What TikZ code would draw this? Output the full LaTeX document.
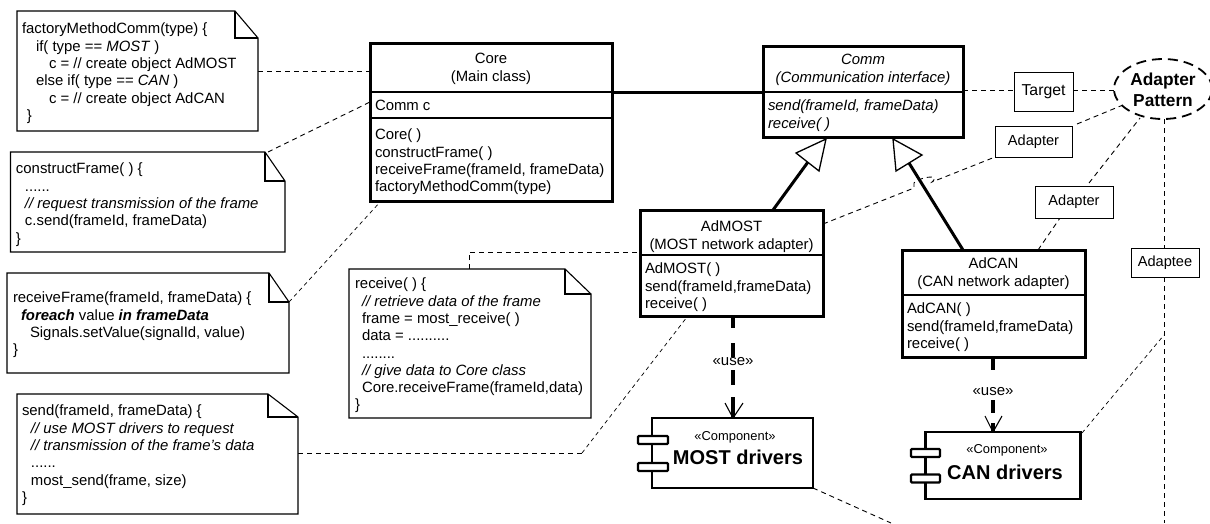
\documentclass[tikz,border=0pt]{standalone}
\usepackage{fontspec}
\setmainfont{Liberation Sans}
\usetikzlibrary{shapes.geometric,arrows.meta}
\tikzset{
  x=1pt,y=-1pt,
  thinbox/.style={draw=black,line width=0.95pt,fill=white,inner sep=0pt,outer sep=0pt},
  thickbox/.style={draw=black,line width=3pt,fill=white,inner sep=0pt,outer sep=0pt,line join=miter},
  codetext/.style={inner sep=0pt,outer sep=0pt,anchor=north west,align=left,font=\fontsize{14.9}{17.3}\selectfont},
  ctrtext/.style={inner sep=0pt,outer sep=0pt,align=center,font=\fontsize{14.9}{17.8}\selectfont},
  dep/.style={draw=black,line width=0.9pt,dash pattern=on 5pt off 4pt},
  finedep/.style={draw=black,line width=0.7pt,dash pattern=on 4pt off 3.5pt},
  tline/.style={draw=black,line width=3pt},
  openv/.style={draw=black,line width=1.1pt},
  tri/.style={draw=black,line width=1.3pt,fill=white,line join=miter},
  usetext/.style={fill=white,inner sep=1pt,font=\fontsize{15}{16}\selectfont},
  lug/.style={draw=black,line width=2.4pt,fill=white,minimum height=8pt,inner sep=0pt,rounded corners=1pt},
  comptype/.style={font=\fontsize{12.9}{14}\selectfont,inner sep=0pt},
  compname/.style={font=\fontsize{20}{22}\selectfont\bfseries,inner sep=0pt},
  compbox/.style={draw=black,line width=2.4pt,fill=white,inner sep=0pt,outer sep=0pt},
}
\newcommand{\NoteShape}[6]{% x1 y1 x2 y2 fx fy
  \draw[line width=1.1pt,fill=white,line join=miter] (#1,#2) -- (#5,#2) -- (#3,#6) -- (#3,#4) -- (#1,#4) -- cycle;
  \draw[line width=1.1pt,line join=miter] (#5,#2) -- (#5,#6) -- (#3,#6);
}
\newcommand{\ind}[1]{\hspace*{#1pt}}
\begin{document}
\begin{tikzpicture}
\useasboundingbox (0,0) rectangle (1210,523);
\fill[white] (0,0) rectangle (1210,523);

% connector end points
\coordinate (a1) at (258,71); \coordinate (a2) at (370,71);
\coordinate (b1) at (268,152); \coordinate (b2) at (370,102);
\coordinate (c1) at (289,302); \coordinate (c2) at (381,201);
\coordinate (d1) at (469,269); \coordinate (d2) at (469,252); \coordinate (d3) at (640,252);
\coordinate (e1) at (298,453); \coordinate (e2) at (582,453); \coordinate (e3) at (687,317);
\coordinate (f1) at (823,224); \coordinate (f2) at (914,188); \coordinate (f3) at (932,182); \coordinate (f4) at (995,157);
\coordinate (g1) at (813,488); \coordinate (g2) at (891,523);
\coordinate (h1) at (1082,433); \coordinate (h2) at (1164,335);
\coordinate (i1) at (1038,250); \coordinate (i2) at (1060,218);
\coordinate (j1) at (1089,183); \coordinate (j2) at (1140,118);
\coordinate (k1) at (1077,124); \coordinate (k2) at (1123,105);
\coordinate (m1) at (963,90); \coordinate (m2) at (1014,90); \coordinate (m3) at (1073,90); \coordinate (m4) at (1115,90);
\coordinate (p1) at (1164,119); \coordinate (p2) at (1164,248); \coordinate (p3) at (1164,277); \coordinate (p4) at (1164,523);

% dashed connectors
\draw[dep] (a1) -- (a2);
\draw[dep] (b1) -- (b2);
\draw[finedep] (c1) -- (c2);
\draw[dep] (d1) -- (d2) -- (d3);
\draw[dep] (e1) -- (e2);
\draw[finedep] (e2) -- (e3);
\draw[dep] (f1) -- (f2) -- ++(0,-5) .. controls +(3,-5) and +(10,-9) .. (f3) -- (f4);
\draw[dep] (g1) -- (g2);
\draw[finedep] (h1) -- (h2);
\draw[dep] (i1) -- (i2);
\draw[dep] (j1) -- (j2);
\draw[dep] (k1) -- (k2);
\draw[dep] (m1) -- (m2);
\draw[dep] (m3) -- (m4);
\draw[dep] (p1) -- (p2);
\draw[dep] (p3) -- (p4);

% generalisations and associations
\coordinate (q1) at (612,92); \coordinate (q2) at (763,92);
\draw[tline] (q1) -- (q2);
\coordinate (r1) at (773,210); \coordinate (r2) at (808,162);
\coordinate (s1) at (963,250); \coordinate (s2) at (909,163);
\draw[tline] (r1) -- (r2);
\draw[tline] (s1) -- (s2);
\coordinate (t1) at (826,139); \coordinate (t2) at (796,153); \coordinate (t3) at (819,171);
\coordinate (u1) at (893,139); \coordinate (u2) at (896,171); \coordinate (u3) at (922,155);
\draw[tri] (t1) -- (t2) -- (t3) -- cycle;
\draw[tri] (u1) -- (u2) -- (u3) -- cycle;

% notes
\NoteShape{17}{11}{258}{131}{235}{38}
\NoteShape{10.5}{152}{285}{252}{265}{181}
\NoteShape{7}{273}{289}{373}{269}{302}
\NoteShape{17}{394}{298}{514}{268}{417}
\NoteShape{349}{269}{591}{418}{565}{294}

\node[codetext] (n1text) at (22,23) {factoryMethodComm(type) \{\\
\ind{14}if( type == \textit{MOST} )\\
\ind{27}c = // create object AdMOST\\
\ind{14}else if( type == \textit{CAN} )\\
\ind{27}c = // create object AdCAN\\
\ind{5}\}};
\node[codetext] (n2text) at (16,163) {constructFrame( ) \{\\
\ind{9}......\\
\ind{9}\textit{// request transmission of the frame}\\
\ind{9}c.send(frameId, frameData)\\
\}};
\node[codetext] (n3text) at (13,292) {receiveFrame(frameId, frameData) \{\\
\ind{8}\textbf{\textit{foreach}} value \textbf{\textit{in frameData}}\\
\ind{17}Signals.setValue(signalId, value)\\
\}};
\node[codetext] (n4text) at (22,405) {send(frameId, frameData) \{\\
\ind{9}\textit{// use MOST drivers to request}\\
\ind{9}\textit{// transmission of the frame's data}\\
\ind{9}......\\
\ind{9}most\_send(frame, size)\\
\}};
\node[codetext] (n5text) at (355,278) {receive( ) \{\\
\ind{7}\textit{// retrieve data of the frame}\\
\ind{7}frame = most\_receive( )\\
\ind{7}data = ..........\\
\ind{7}........\\
\ind{7}\textit{// give data to Core class}\\
\ind{7}Core.receiveFrame(frameId,data)\\
\}};

% classes
\node[thickbox,minimum width=242pt,minimum height=158pt] (core) at (491,122) {};
\draw[line width=2.6pt] (core.west |- 0,92) -- (core.east |- 0,92);
\draw[line width=2.6pt] (core.west |- 0,118) -- (core.east |- 0,118);
\node[ctrtext] (coret) at (491,69) {Core\\(Main class)};
\node[codetext] (corea) at (375,100) {Comm c};
\node[codetext] (corem) at (375,129) {Core( )\\constructFrame( )\\receiveFrame(frameId, frameData)\\factoryMethodComm(type)};

\node[thickbox,minimum width=200pt,minimum height=91pt] (comm) at (863,91.5) {};
\draw[line width=2.6pt] (comm.west |- 0,92) -- (comm.east |- 0,92);
\node[ctrtext] (commt) at (863,70) {\textit{Comm}\\\textit{(Communication interface)}};
\node[codetext] (commm) at (768,100) {\textit{send(frameId, frameData)}\\\textit{receive( )}};

\node[thickbox,minimum width=183pt,minimum height=106pt] (admost) at (731.5,263) {};
\draw[line width=2pt] (admost.west |- 0,255) -- (admost.east |- 0,255);
\node[ctrtext] (admostt) at (731.5,237) {AdMOST\\(MOST network adapter)};
\node[codetext] (admostm) at (645,263) {AdMOST( )\\send(frameId,frameData)\\receive( )};

\node[thickbox,minimum width=183pt,minimum height=107pt] (adcan) at (993.5,303.5) {};
\draw[line width=2pt] (adcan.west |- 0,295) -- (adcan.east |- 0,295);
\node[ctrtext] (adcant) at (993.5,274) {AdCAN\\(CAN network adapter)};
\node[codetext] (adcanm) at (907,303) {AdCAN( )\\send(frameId,frameData)\\receive( )};

% use dependencies
\coordinate (v1) at (733,316); \coordinate (v2) at (733,418);
\coordinate (v3) at (725,403); \coordinate (v4) at (743,403);
\draw[draw=black,line width=3.2pt,dash pattern=on 12pt off 15pt on 15pt off 12pt on 15pt off 12pt on 21pt] (v1) -- (v2);
\draw[openv] (v3) -- (v2) -- (v4);
\node[usetext] (use1) at (733,362) {«use»};
\coordinate (w1) at (993,357); \coordinate (w2) at (993,432);
\coordinate (w3) at (985,416); \coordinate (w4) at (1002,416);
\draw[draw=black,line width=3.2pt,dash pattern=on 13pt off 30pt on 13pt off 10pt on 10pt] (w1) -- (w2);
\draw[openv] (w3) -- (w2) -- (w4);
\node[usetext] (use2) at (993,392) {«use»};

% components
\node[compbox,minimum width=161pt,minimum height=70pt] (most) at (732.5,453) {};
\node[lug,minimum width=30pt] (most1) at (653,440) {};
\node[lug,minimum width=30pt] (most2) at (653,467) {};
\node[comptype] (mostc) at (735,437) {«Component»};
\node[compname] (mostn) at (738,457) {MOST drivers};
\node[compbox,minimum width=155pt,minimum height=67pt] (can) at (1003,465.5) {};
\node[lug,minimum width=29pt] (can1) at (925.5,453) {};
\node[lug,minimum width=29pt] (can2) at (925.5,478.5) {};
\node[comptype] (canc) at (1007,450) {«Component»};
\node[compname] (cann) at (1005,472) {CAN drivers};

% role boxes
\node[thinbox,minimum width=59pt,minimum height=39pt,font=\fontsize{15.8}{17}\selectfont] (target) at (1043.5,91.5) {Target};
\node[thinbox,minimum width=77pt,minimum height=31pt,font=\fontsize{14.6}{16}\selectfont] (adapter1) at (1033.5,141.5) {Adapter};
\node[thinbox,minimum width=78pt,minimum height=32pt,font=\fontsize{14.6}{16}\selectfont] (adapter2) at (1074,202) {Adapter};
\node[thinbox,minimum width=68pt,minimum height=29pt,font=\fontsize{14.6}{16}\selectfont] (adaptee) at (1165,262.5) {Adaptee};

% pattern
\node[ellipse,draw=black,line width=1.8pt,dash pattern=on 10pt off 6pt,fill=white,minimum width=98pt,minimum height=60pt,inner sep=0pt,outer sep=0pt] (pattern) at (1163,89) {};
\node[inner sep=0pt,align=center,font=\fontsize{17.3}{20.5}\selectfont\bfseries] (patternt) at (1163,90) {Adapter\\Pattern};
\end{tikzpicture}
\end{document}
